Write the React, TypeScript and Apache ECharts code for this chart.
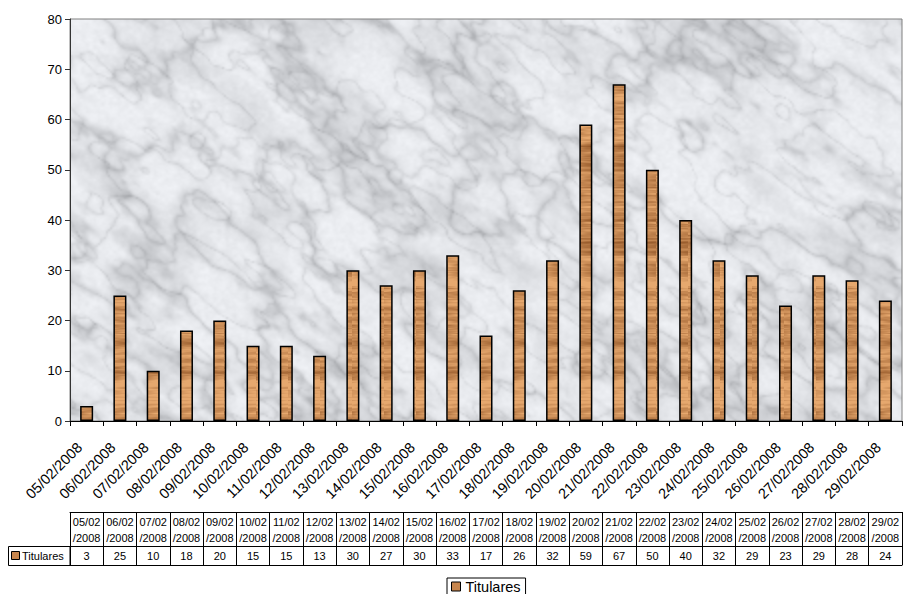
import React, { useEffect, useRef } from 'react';
import * as echarts from 'echarts';

const categories = [
  '05/02/2008', '06/02/2008', '07/02/2008', '08/02/2008', '09/02/2008',
  '10/02/2008', '11/02/2008', '12/02/2008', '13/02/2008', '14/02/2008',
  '15/02/2008', '16/02/2008', '17/02/2008', '18/02/2008', '19/02/2008',
  '20/02/2008', '21/02/2008', '22/02/2008', '23/02/2008', '24/02/2008',
  '25/02/2008', '26/02/2008', '27/02/2008', '28/02/2008', '29/02/2008',
];
const titulares = [3, 25, 10, 18, 20, 15, 15, 13, 30, 27, 30, 33, 17, 26, 32, 59, 67, 50, 40, 32, 29, 23, 29, 28, 24];
const seriesName = 'Titulares';
const yMin = 0;
const yMax = 80;
const yInterval = 10;

const FONT = '"Liberation Sans", Arial, sans-serif';

function h2(i: number, j: number) {
  let n = Math.imul(i, 374761393) ^ Math.imul(j, 668265263);
  n = Math.imul(n ^ (n >>> 13), 1274126177);
  n = n ^ (n >>> 16);
  return (n >>> 0) / 4294967296;
}
function vnoise(x: number, y: number) {
  const xi = Math.floor(x), yi = Math.floor(y);
  const xf = x - xi, yf = y - yi;
  const u = xf * xf * (3 - 2 * xf), v = yf * yf * (3 - 2 * yf);
  const a = h2(xi, yi), b = h2(xi + 1, yi), c = h2(xi, yi + 1), d = h2(xi + 1, yi + 1);
  return a + (b - a) * u + (c - a) * v + (a - b - c + d) * u * v;
}
function fbm(x: number, y: number, oct: number) {
  let s = 0, amp = 0.5, f = 1, norm = 0;
  for (let k = 0; k < oct; k++) {
    s += amp * vnoise(x * f + k * 17.3, y * f + k * 9.1);
    norm += amp;
    f *= 2;
    amp *= 0.5;
  }
  return s / norm;
}

function makeMarble(w: number, h: number) {
  const c = document.createElement('canvas');
  c.width = w; c.height = h;
  const ctx = c.getContext('2d')!;
  const img = ctx.createImageData(w, h);
  for (let y = 0; y < h; y++) {
    for (let x = 0; x < w; x++) {
      const X = x * 2, Y = y * 2;
      const u = (X * 0.8 + Y * 0.6);
      const v = (Y * 0.8 - X * 0.6);
      const m = fbm(u / 70, v / 35, 4);
      const r1 = 1 - Math.abs(2 * fbm(u / 90 + 11, v / 45 + 5, 4) - 1);
      const r2 = 1 - Math.abs(2 * fbm(u / 45 + 31, v / 22 + 7, 3) - 1);
      const grain = fbm(X / 4, Y / 4, 2);
      let g = 240
        - Math.max(0, m - 0.45) * 55
        - Math.pow(r1, 12) * 34
        - Math.pow(r2, 16) * 22
        - (grain - 0.5) * 12;
      g = Math.max(150, Math.min(250, g));
      const i = (y * w + x) * 4;
      img.data[i] = g - 4;
      img.data[i + 1] = g - 2;
      img.data[i + 2] = Math.min(255, g + 2);
      img.data[i + 3] = 255;
    }
  }
  ctx.putImageData(img, 0, 0);
  return c.toDataURL();
}

function makeWood(w: number, h: number) {
  const c = document.createElement('canvas');
  c.width = w; c.height = h;
  const ctx = c.getContext('2d')!;
  const img = ctx.createImageData(w, h);
  const light = [230, 168, 110];
  const dark = [140, 80, 34];
  for (let y = 0; y < h; y++) {
    for (let x = 0; x < w; x++) {
      const n = fbm(x / 40 + 0.5, y / 7, 4);
      const st = fbm(x / 20 + 3.3, y / 1.6, 2);
      let d = (n - 0.32) * 1.4 + (st - 0.5) * 0.7 + 0.05;
      d = Math.max(0, Math.min(1, d));
      const i = (y * w + x) * 4;
      for (let k = 0; k < 3; k++) img.data[i + k] = light[k] + (dark[k] - light[k]) * d;
      img.data[i + 3] = 255;
    }
  }
  ctx.putImageData(img, 0, 0);
  return c.toDataURL();
}

export default function App() {
  const ref = useRef<HTMLDivElement>(null);
  useEffect(() => {
    if (!ref.current) return;
    const marble = makeMarble(416, 201);
    const wood = makeWood(16, 420);
    const chart = echarts.init(ref.current, undefined, { renderer: 'svg' });
    const headerLabels = categories.map((c) => c.slice(0, 5) + '\n' + c.slice(5));
    const valueLabels = titulares.map((v) => String(v));
    const lineStyle = { color: '#000', width: 1 };
    chart.setOption({
      animation: false,
      textStyle: { fontFamily: FONT },
      grid: {
        left: 70, top: 19, right: 1, bottom: 173,
        show: true,
        borderColor: '#808080',
        borderWidth: 1,
        backgroundColor: 'transparent',
      },
      legend: {
        data: [{ name: seriesName, icon: 'rect', itemStyle: { color: '#c8864e', borderColor: '#000', borderWidth: 1 } }],
        left: 447, top: 578,
        itemWidth: 9, itemHeight: 9, itemGap: 5,
        borderColor: '#000', borderWidth: 1,
        padding: [1, 5, 6, 4],
        textStyle: { fontSize: 14.5, color: '#000', fontFamily: FONT },
      },
      xAxis: [
        {
          type: 'category', data: categories, position: 'bottom',
          axisLine: { lineStyle },
          axisTick: { show: true, length: 5, lineStyle, interval: 0 },
          axisLabel: { rotate: 45, fontSize: 14.5, color: '#000', fontFamily: FONT, margin: 17, interval: 0, padding: [0, 10, 0, 0] },
        },
        {
          type: 'category', data: headerLabels, position: 'bottom', offset: 91,
          axisLine: { lineStyle },
          axisTick: { show: true, length: 34, lineStyle, interval: 0 },
          axisLabel: { fontSize: 11, lineHeight: 16, color: '#000', fontFamily: FONT, margin: 2, interval: 0 },
        },
        {
          type: 'category', data: valueLabels, position: 'bottom', offset: 125,
          axisLine: { lineStyle },
          axisTick: { show: true, length: 19, lineStyle, interval: 0 },
          axisLabel: { fontSize: 11, lineHeight: 14, color: '#000', fontFamily: FONT, margin: 3, interval: 0 },
        },
        {
          type: 'category', data: categories, position: 'bottom', offset: 144,
          axisLine: { lineStyle },
          axisTick: { show: false },
          axisLabel: { show: false },
        },
      ],
      yAxis: {
        type: 'value', min: yMin, max: yMax, interval: yInterval,
        axisLine: { show: true, lineStyle: { color: '#333', width: 1 } },
        axisTick: { show: true, length: 5, lineStyle: { color: '#333' } },
        axisLabel: { fontSize: 13, color: '#000', fontFamily: FONT, margin: 8 },
        splitLine: { show: false },
      },
      graphic: [
        {
          type: 'image', z: -10, silent: true,
          style: { image: marble, x: 70, y: 19, width: 832, height: 402 },
        },
        {
          type: 'group',
          children: [
            { type: 'rect', shape: { x: 8.5, y: 546.5, width: 61.5, height: 19 }, style: { fill: 'none', stroke: '#000', lineWidth: 1 } },
            { type: 'rect', shape: { x: 11.5, y: 551.5, width: 8, height: 8 }, style: { fill: '#c8864e', stroke: '#000', lineWidth: 1 } },
            { type: 'text', x: 22, y: 556, style: { text: seriesName, fontSize: 11, fill: '#000', fontFamily: FONT, verticalAlign: 'middle' } },
          ],
        },
      ],
      series: [
        {
          type: 'bar', name: seriesName, data: titulares, xAxisIndex: 0,
          barWidth: 13,
          itemStyle: {
            color: { image: wood, repeat: 'repeat', imageWidth: 16, imageHeight: 420 },
            borderColor: '#000', borderWidth: 1.5,
          },
        },
      ],
    });
    return () => chart.dispose();
  }, []);
  return <div ref={ref} style={{ position: 'absolute', left: 0, top: 0, width: 903, height: 594 }} />;
}
